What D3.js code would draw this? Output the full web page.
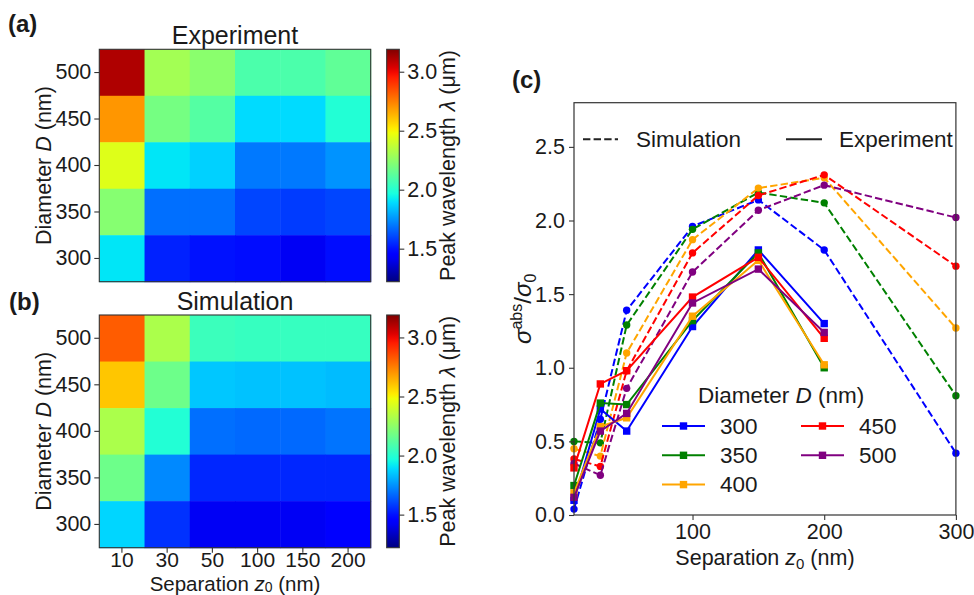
<!DOCTYPE html>
<html><head><meta charset="utf-8">
<script src="https://cdn.jsdelivr.net/npm/d3@7"></script>
<style>body{margin:0;background:#fff;} text{font-family:"Liberation Sans",Arial,sans-serif;fill:#1a1a1a;}</style>
</head><body><svg id="c" width="974" height="595"></svg>
<script>
// ---------------- data ----------------
const separations = ["10","30","50","100","150","200"];
const diameters = ["500","450","400","350","300"];
// peak wavelength (µm), rows = diameters (top to bottom), cols = separations
const expPeak = [
  [3.11,2.30,2.24,2.09,2.09,2.14],
  [2.70,2.19,2.11,1.89,1.89,1.99],
  [2.44,1.91,1.87,1.70,1.70,1.75],
  [2.23,1.68,1.68,1.60,1.58,1.60],
  [1.91,1.53,1.50,1.49,1.42,1.49]
];
const simPeak = [
  [2.82,2.32,2.05,2.04,2.04,2.04],
  [2.60,2.17,1.85,1.84,1.84,1.83],
  [2.32,1.99,1.68,1.67,1.67,1.69],
  [2.17,1.73,1.54,1.54,1.54,1.54],
  [1.88,1.56,1.42,1.42,1.42,1.44]
];
const colorTicks = [1.5,2.0,2.5,3.0];
const colorRange = [1.22,3.19];

const simZ = [10,30,50,100,150,200,300];
const expZ = [10,30,50,100,150,200];
const seriesD = ["300","350","400","450","500"];
const simSigma = [
  [0.04,0.65,1.39,1.96,2.14,1.80,0.42],
  [0.50,0.49,1.29,1.94,2.19,2.12,0.81],
  [0.45,0.40,1.10,1.87,2.22,2.29,1.27],
  [0.38,0.33,0.98,1.78,2.17,2.31,1.69],
  [0.35,0.27,0.86,1.65,2.07,2.24,2.02]
];
const expSigma = [
  [0.10,0.72,0.57,1.28,1.80,1.30],
  [0.20,0.76,0.75,1.32,1.78,1.00],
  [0.15,0.60,0.66,1.35,1.73,1.02],
  [0.32,0.89,0.98,1.48,1.75,1.20],
  [0.12,0.57,0.69,1.44,1.67,1.24]
];
const cTicksX = [100,200,300];
const cTicksY = [0,0.5,1.0,1.5,2.0,2.5];

// ---------------- styles ----------------
const seriesColors = ["#0000ff","#008000","#ffa500","#ff0000","#800080"];
const axisCol = "#333";
const FONT = "Liberation Sans, Arial, sans-serif";

// matplotlib jet
const jr = d3.scaleLinear().domain([0,0.35,0.66,0.89,1]).range([0,0,1,1,0.5]).clamp(true);
const jg = d3.scaleLinear().domain([0,0.125,0.375,0.64,0.91,1]).range([0,0,1,1,0,0]).clamp(true);
const jb = d3.scaleLinear().domain([0,0.11,0.34,0.65,1]).range([0.5,1,1,0,0]).clamp(true);
const jet = t => d3.rgb(255*jr(t),255*jg(t),255*jb(t)).toString();
const norm = d3.scaleLinear().domain(colorRange).range([0,1]).clamp(true);
const colorOf = v => jet(norm(v));

const svg = d3.select("#c");
const defs = svg.append("defs");
const grad = defs.append("linearGradient").attr("id","jetg").attr("x1",0).attr("y1",1).attr("x2",0).attr("y2",0);
d3.range(0,1.0001,0.02).forEach(t=>grad.append("stop").attr("offset",t).attr("stop-color",jet(t)));

function styleAxis(a, fs){
  a.select(".domain").remove();
  a.selectAll("line").attr("stroke",axisCol).attr("stroke-width",1.1);
  a.selectAll("text").attr("font-size",fs||21.5).attr("fill","#1a1a1a").attr("font-family",FONT);
}

function heat(data, top, bottom, title, showX){
  const left=99.3, right=370.7;
  const x = d3.scaleBand().domain(separations).range([left,right]);
  const y = d3.scaleBand().domain(diameters).range([top,bottom]);
  const g = svg.append("g");
  diameters.forEach((d,i)=>separations.forEach((s,j)=>{
    g.append("rect").attr("x",x(s)).attr("y",y(d)).attr("width",x.bandwidth()+0.5).attr("height",y.bandwidth()+0.5)
      .attr("fill",colorOf(data[i][j]));
  }));
  g.append("rect").attr("x",left).attr("y",top).attr("width",right-left).attr("height",bottom-top)
    .attr("fill","none").attr("stroke",axisCol).attr("stroke-width",1.1);
  const ya = g.append("g").attr("transform",`translate(${left},0)`).call(d3.axisLeft(y).tickSize(5).tickPadding(3));
  styleAxis(ya);
  if(showX){
    const xa = g.append("g").attr("transform",`translate(0,${bottom})`).call(d3.axisBottom(x).tickSize(5).tickPadding(0));
    styleAxis(xa, 21);
    xa.selectAll("text").attr("dy","0.68em");
    const xl = g.append("text").attr("x",(left+right)/2).attr("y",590.5).attr("text-anchor","middle").attr("font-size",20.5);
    xl.append("tspan").text("Separation ");
    xl.append("tspan").attr("font-style","italic").text("z");
    xl.append("tspan").attr("font-size",14).attr("dy",1.5).text("0");
    xl.append("tspan").attr("dy",-1.5).text(" (nm)");
  }
  // title
  g.append("text").attr("x",(left+right)/2).attr("y",top-5).attr("text-anchor","middle").attr("font-size",25).text(title);
  // y label
  const yl = g.append("text").attr("transform",`translate(51,${(top+bottom)/2}) rotate(-90)`).attr("text-anchor","middle").attr("font-size",21.5);
  yl.append("tspan").text("Diameter ");
  yl.append("tspan").attr("font-style","italic").text("D");
  yl.append("tspan").text(" (nm)");
  // colorbar
  const cx0=386.7, cw=12.6;
  g.append("rect").attr("x",cx0).attr("y",top).attr("width",cw).attr("height",bottom-top).attr("fill","url(#jetg)")
    .attr("stroke",axisCol).attr("stroke-width",1.1);
  const cs = d3.scaleLinear().domain(colorRange).range([bottom,top]);
  const ca = g.append("g").attr("transform",`translate(${cx0+cw},0)`).call(d3.axisRight(cs).tickValues(colorTicks).tickFormat(d3.format(".1f")).tickSize(5).tickPadding(3));
  styleAxis(ca);
  const cl = g.append("text").attr("transform",`translate(455,${(top+bottom)/2}) rotate(-90)`).attr("text-anchor","middle").attr("font-size",21.5);
  cl.append("tspan").text("Peak wavelength ");
  cl.append("tspan").attr("font-style","italic").text("λ");
  cl.append("tspan").text(" (μm)");
}
heat(expPeak, 49.3, 281.7, "Experiment", false);
heat(simPeak, 315, 547.7, "Simulation", true);

svg.append("text").attr("x",8).attr("y",32).attr("font-size",24).attr("font-weight","bold").text("(a)");
svg.append("text").attr("x",9).attr("y",310).attr("font-size",24).attr("font-weight","bold").text("(b)");
svg.append("text").attr("x",512).attr("y",88).attr("font-size",24).attr("font-weight","bold").text("(c)");

// ---------------- panel c ----------------
const L=574, R=955.9, T=102.7, B=515;
const xs = d3.scaleLinear().domain([10,300]).range([L,R]);
const ys = d3.scaleLinear().domain([0,2.8]).range([B,T]);
const gc = svg.append("g");
defs.append("clipPath").attr("id","pc").append("rect").attr("x",L-6).attr("y",T).attr("width",R-L+12).attr("height",B-T+6);

const line = d3.line().x(d=>xs(d[0])).y(d=>ys(d[1]));
const plot = gc.append("g").attr("clip-path","url(#pc)");
simSigma.forEach((arr,i)=>{
  const pts = simZ.map((z,k)=>[z,arr[k]]);
  plot.append("path").attr("d",line(pts)).attr("fill","none").attr("stroke",seriesColors[i]).attr("stroke-width",2)
    .attr("stroke-dasharray","7.4,3.2");
  plot.selectAll(null).data(pts).enter().append("circle").attr("cx",d=>xs(d[0])).attr("cy",d=>ys(d[1])).attr("r",3.7)
    .attr("fill",seriesColors[i]);
});
expSigma.forEach((arr,i)=>{
  const pts = expZ.map((z,k)=>[z,arr[k]]);
  plot.append("path").attr("d",line(pts)).attr("fill","none").attr("stroke",seriesColors[i]).attr("stroke-width",2);
  plot.selectAll(null).data(pts).enter().append("rect").attr("x",d=>xs(d[0])-3.7).attr("y",d=>ys(d[1])-3.7)
    .attr("width",7.4).attr("height",7.4).attr("fill",seriesColors[i]);
});
gc.append("rect").attr("x",L).attr("y",T).attr("width",R-L).attr("height",B-T).attr("fill","none").attr("stroke",axisCol).attr("stroke-width",1.2);
const xa = gc.append("g").attr("transform",`translate(0,${B})`).call(d3.axisBottom(xs).tickValues(cTicksX).tickSize(5).tickPadding(4));
styleAxis(xa);
xa.selectAll("text").attr("dy","0.72em");
const ya = gc.append("g").attr("transform",`translate(${L},0)`).call(d3.axisLeft(ys).tickValues(cTicksY).tickFormat(d3.format(".1f")).tickSize(5).tickPadding(4));
styleAxis(ya);

const cxl = gc.append("text").attr("x",(L+R)/2).attr("y",565).attr("text-anchor","middle").attr("font-size",21.5);
cxl.append("tspan").text("Separation ");
cxl.append("tspan").attr("font-style","italic").text("z");
cxl.append("tspan").attr("font-size",15).attr("dy",4).text("0");
cxl.append("tspan").attr("dy",-4).text(" (nm)");

const cyl = gc.append("text").attr("transform",`translate(531,${(T+B)/2}) rotate(-90)`).attr("text-anchor","middle").attr("font-size",24);
cyl.append("tspan").attr("font-style","italic").text("σ");
cyl.append("tspan").attr("font-size",16).attr("dy",-9).text("abs");
cyl.append("tspan").attr("dy",9).text("/");
cyl.append("tspan").attr("font-style","italic").text("σ");
cyl.append("tspan").attr("font-size",16).attr("dy",5).text("0");

// style legend
gc.append("line").attr("x1",583).attr("x2",618).attr("y1",139.3).attr("y2",139.3).attr("stroke","#222").attr("stroke-width",2).attr("stroke-dasharray","7.4,3.2");
gc.append("text").attr("x",636).attr("y",147).attr("font-size",22.5).text("Simulation");
gc.append("line").attr("x1",786).attr("x2",822).attr("y1",139.3).attr("y2",139.3).attr("stroke","#222").attr("stroke-width",2);
gc.append("text").attr("x",839).attr("y",147).attr("font-size",22.5).text("Experiment");

// diameter legend
const lt = gc.append("text").attr("x",698).attr("y",403).attr("font-size",22.5);
lt.append("tspan").text("Diameter ");
lt.append("tspan").attr("font-style","italic").text("D");
lt.append("tspan").text(" (nm)");
const legPos = [[662,426],[662,455.3],[662,484.6],[801,426],[801,455.3]];
seriesD.forEach((d,i)=>{
  const [lx,ly]=legPos[i];
  gc.append("line").attr("x1",lx).attr("x2",lx+43).attr("y1",ly).attr("y2",ly).attr("stroke",seriesColors[i]).attr("stroke-width",2);
  gc.append("rect").attr("x",lx+21.5-3.7).attr("y",ly-3.7).attr("width",7.4).attr("height",7.4).attr("fill",seriesColors[i]);
  gc.append("text").attr("x",lx+58).attr("y",ly+7.5).attr("font-size",22.5).text(d);
});
</script></body></html>
